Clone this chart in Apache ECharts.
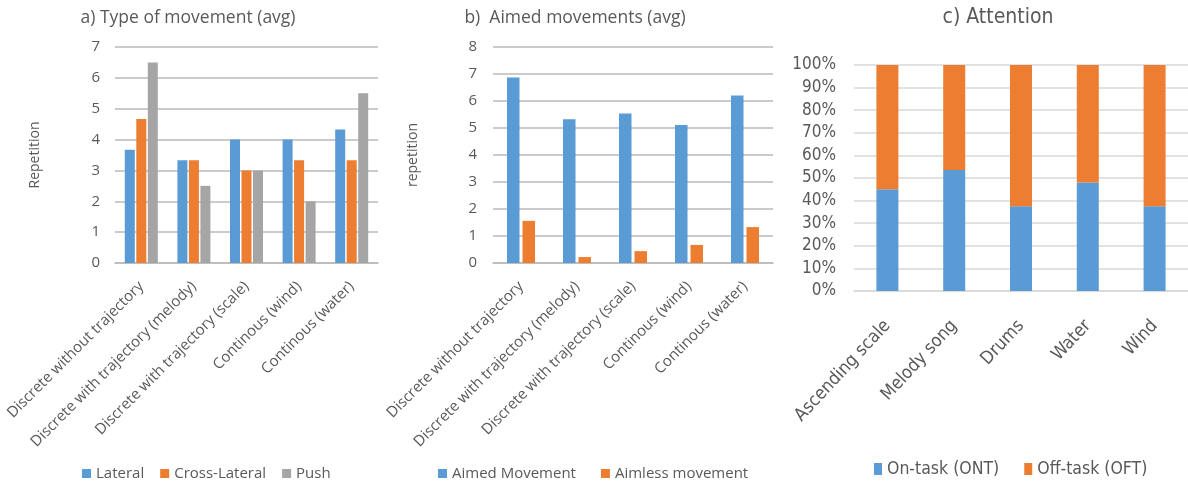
<!DOCTYPE html>
<html><head><meta charset="utf-8">
<script src="https://cdn.jsdelivr.net/npm/echarts@6/dist/echarts.min.js"></script>
<style>html,body{margin:0;padding:0;background:#fff}#c{width:1188px;height:484px}</style>
</head><body><div id="c"></div>
<script>
// ---- data ----
var catsA = ['Discrete without trajectory','Discrete with trajectory (melody)','Discrete with trajectory (scale)','Continous (wind)','Continous (water)'];
var lateral = [3.67, 3.33, 4, 4, 4.33];
var crossLateral = [4.67, 3.33, 3, 3.33, 3.33];
var push = [6.5, 2.5, 3, 2, 5.5];

var catsB = ['Discrete without trajectory','Discrete with trajectory (melody)','Discrete with trajectory (scale)','Continous (wind)','Continous (water)'];
var aimed = [6.87, 5.32, 5.54, 5.11, 6.2];
var aimless = [1.56, 0.22, 0.44, 0.67, 1.33];

var catsC = ['Ascending scale','Melody song','Drums','Water','Wind'];
var onTask = [45, 53.5, 37.5, 48, 37.5];
var offTask = [55, 46.5, 62.5, 52, 62.5];

var BLUE = '#5B9BD5', ORANGE = '#ED7D31', GRAY = '#A5A5A5';
var TXT = '#595959';
var F1 = '"Open Sans", "Noto Sans", sans-serif';
var F2 = '"Liberation Sans Narrow", "DejaVu Sans Condensed", "Noto Sans", sans-serif';

var chart = echarts.init(document.getElementById('c'), null, {renderer: 'canvas'});

function xAx(gi, cats, font, size, margin, rot) {
  return {
    type: 'category', gridIndex: gi, data: cats,
    axisTick: {show: false},
    axisLine: {lineStyle: {color: gi === 2 ? '#D9D9D9' : '#BABABA', width: 1.5}},
    axisLabel: {interval: 0, rotate: rot, color: TXT, fontFamily: font, fontSize: size, margin: margin}
  };
}

var option = {
  animation: false,
  graphic: [
    {type: 'text', x: 188, y: 18, style: {text: 'a) Type of movement (avg)', fill: TXT, font: '17.5px ' + F1, textAlign: 'center', textVerticalAlign: 'middle'}},
    {type: 'text', x: 575, y: 18, style: {text: 'b)  Aimed movements (avg)', fill: TXT, font: '17.5px ' + F1, textAlign: 'center', textVerticalAlign: 'middle'}},
    {type: 'text', x: 998, y: 18, style: {text: 'c) Attention', fill: TXT, font: '21px ' + F2, textAlign: 'center', textVerticalAlign: 'middle'}}
  ],
  legend: [
    {data: ['Lateral', 'Cross-Lateral', 'Push'], left: 77, top: 461, itemWidth: 9, itemHeight: 9, itemGap: 16,
     icon: 'rect', textStyle: {color: TXT, fontFamily: F1, fontSize: 15}},
    {data: ['Aimed Movement', 'Aimless movement'], left: 433, top: 461, itemWidth: 9, itemHeight: 9, itemGap: 25,
     icon: 'rect', textStyle: {color: TXT, fontFamily: F1, fontSize: 15}},
    {data: ['On-task (ONT)', 'Off-task (OFT)'], left: 869, top: 455, itemWidth: 8, itemHeight: 12, itemGap: 25,
     icon: 'rect', textStyle: {color: TXT, fontFamily: F2, fontSize: 17.5}}
  ],
  grid: [
    {left: 115, right: 810, top: 47, bottom: 221},
    {left: 493, right: 415, top: 47, bottom: 221},
    {left: 854, right: -26, top: 65, bottom: 193}
  ],
  xAxis: [
    xAx(0, catsA, F1, 15, 21, 45),
    xAx(1, catsB, F1, 15, 21, 45),
    xAx(2, catsC, F2, 18, 32, 47)
  ],
  yAxis: [
    {type: 'value', gridIndex: 0, min: 0, max: 7, interval: 1, name: 'Repetition', nameLocation: 'middle', nameGap: 73,
     nameTextStyle: {color: TXT, fontFamily: F1, fontSize: 14},
     axisLine: {show: false}, axisTick: {show: false},
     axisLabel: {color: TXT, fontFamily: F1, fontSize: 15, margin: 15},
     splitLine: {lineStyle: {color: '#BABABA', width: 1.5}}},
    {type: 'value', gridIndex: 1, min: 0, max: 8, interval: 1, name: 'repetition', nameLocation: 'middle', nameGap: 73,
     nameTextStyle: {color: TXT, fontFamily: F1, fontSize: 14},
     axisLine: {show: false}, axisTick: {show: false},
     axisLabel: {color: TXT, fontFamily: F1, fontSize: 15, margin: 16},
     splitLine: {lineStyle: {color: '#BABABA', width: 1.5}}},
    {type: 'value', gridIndex: 2, min: 0, max: 100, interval: 10,
     axisLine: {show: false}, axisTick: {show: false},
     axisLabel: {color: TXT, fontFamily: F2, fontSize: 17, margin: 18, formatter: '{value}%'},
     splitLine: {lineStyle: {color: '#D9D9D9', width: 1.5}}}
  ],
  series: [
    {name: 'Lateral', type: 'bar', xAxisIndex: 0, yAxisIndex: 0, data: lateral, barWidth: 10, barGap: '15%', itemStyle: {color: BLUE}},
    {name: 'Cross-Lateral', type: 'bar', xAxisIndex: 0, yAxisIndex: 0, data: crossLateral, barWidth: 10, barGap: '15%', itemStyle: {color: ORANGE}},
    {name: 'Push', type: 'bar', xAxisIndex: 0, yAxisIndex: 0, data: push, barWidth: 10, barGap: '15%', itemStyle: {color: GRAY}},
    {name: 'Aimed Movement', type: 'bar', xAxisIndex: 1, yAxisIndex: 1, data: aimed, barWidth: 12.5, barGap: '24%', itemStyle: {color: BLUE}},
    {name: 'Aimless movement', type: 'bar', xAxisIndex: 1, yAxisIndex: 1, data: aimless, barWidth: 12.5, barGap: '24%', itemStyle: {color: ORANGE}},
    {name: 'On-task (ONT)', type: 'bar', stack: 'c', xAxisIndex: 2, yAxisIndex: 2, data: onTask, barWidth: 22, itemStyle: {color: BLUE}},
    {name: 'Off-task (OFT)', type: 'bar', stack: 'c', xAxisIndex: 2, yAxisIndex: 2, data: offTask, barWidth: 22, itemStyle: {color: ORANGE}}
  ]
};
chart.setOption(option);
</script>
</body></html>
